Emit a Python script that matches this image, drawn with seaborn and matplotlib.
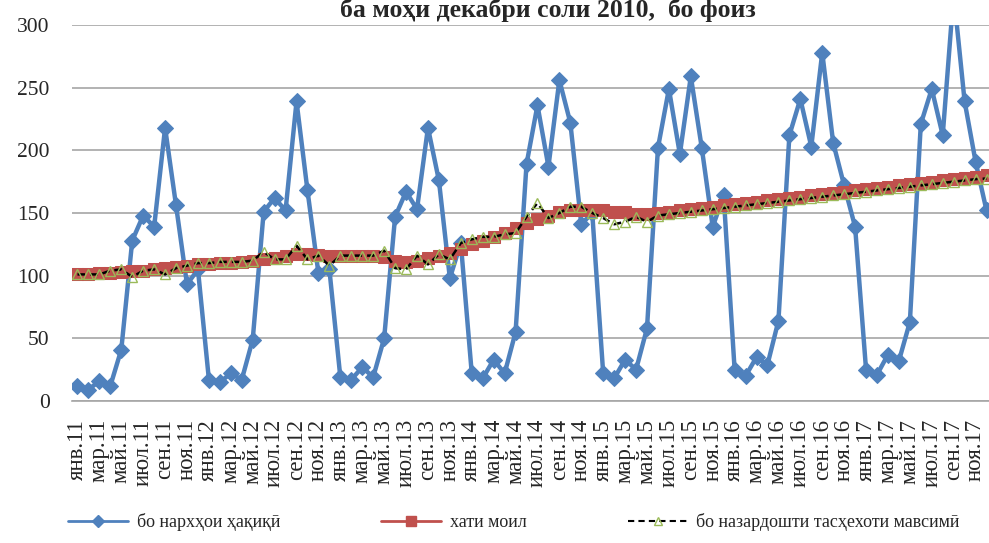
import numpy as np
import pandas as pd
import matplotlib
matplotlib.use("Agg")
import matplotlib.pyplot as plt
import seaborn as sns
from matplotlib.lines import Line2D

sns.set_theme(style="white")
plt.rcParams['font.family'] = ['Liberation Serif', 'DejaVu Serif']

months = ["янв", "фев", "мар", "апр", "май", "июн", "июл", "авг", "сен", "окт", "ноя", "дек"]
years = ["11", "12", "13", "14", "15", "16", "17"]
periods = [f"{m}.{y}" for y in years for m in months]

actual = [
    12, 9, 16, 12, 41, 128, 148, 139, 218, 156, 93, 105,
    17, 15, 22, 17, 49, 151, 162, 152, 239, 168, 102, 105,
    19, 17, 27, 19, 50, 147, 167, 153, 218, 176, 98, 126,
    22, 18, 33, 22, 55, 189, 236, 187, 256, 222, 141, 150,
    22, 18, 33, 25, 58, 202, 249, 197, 259, 202, 139, 164,
    25, 20, 35, 29, 64, 212, 241, 203, 278, 206, 172, 139,
    25, 21, 37, 32, 63, 221, 249, 212, 325, 239, 191, 152,
]
trend = [
    101, 101.5, 102, 102.5, 103, 103.5, 104, 105, 106, 107, 108, 109,
    109.5, 110, 110.5, 111, 112, 113, 114, 115.5, 117, 117, 116.5, 116,
    116, 116, 116, 116, 115, 112, 111, 112, 114, 116, 118, 121,
    125, 128, 131, 134, 138, 142, 145, 148, 151, 152, 152, 152,
    152, 151, 151, 149, 149, 150, 151, 152, 153, 154, 155, 156,
    157, 158, 159, 160, 161, 162, 163, 164, 165, 166, 167, 168,
    169, 170, 171, 172, 173, 174, 175, 176, 177, 178, 179, 180,
]
seasonal = [
    101, 101, 101, 104, 105, 99, 104, 105, 101, 106, 108, 110,
    110, 111, 111, 111, 112, 119, 113, 113, 124, 113, 116, 108,
    116, 116, 116, 116, 120, 106, 105, 116, 109, 117, 113, 126,
    129, 131, 131, 133, 134, 147, 158, 146, 150, 155, 155, 150,
    146, 141, 143, 147, 143, 148, 149, 150, 151, 152, 153, 154,
    155, 156, 157, 158, 159, 160, 161, 162, 163, 164, 165, 166,
    167, 168, 169, 170, 171, 172, 173, 174, 175, 176, 177, 177.5,
]
tick_labels = periods[::2]
legend_labels = ["бо нархҳои ҳақиқӣ", "хати моил", "бо назардошти тасҳехоти мавсимӣ"]
title = "ба моҳи декабри соли 2010,  бо фоиз"

df = pd.DataFrame({"idx": np.arange(len(periods)), "actual": actual,
                   "trend": trend, "seasonal": seasonal})

W, H = 989, 543
fig = plt.figure(figsize=(W / 100, H / 100), dpi=100)
ax = fig.add_axes([72 / W, 142 / H, 920 / W, 376 / H])

blue, red, green = "#4F81BD", "#C0504D", "#9BBB59"

sns.lineplot(data=df, x="idx", y="actual", ax=ax, color=blue, linewidth=3.2,
             marker="D", markersize=8, markeredgecolor=blue, zorder=3)
sns.lineplot(data=df, x="idx", y="trend", ax=ax, color=red, linewidth=2.5,
             marker="s", markersize=8, markeredgecolor=red, zorder=4)
sns.lineplot(data=df, x="idx", y="seasonal", ax=ax, color="black", linewidth=1.8,
             linestyle=(0, (3, 2)), marker="^", markersize=7,
             markerfacecolor="none", markeredgecolor=green, markeredgewidth=1.0, zorder=5)

ax.set_xlim(-0.5, 83.5)
ax.set_ylim(0, 300)
ax.set_yticks(np.arange(0, 301, 50))
ax.set_xticks(np.arange(0, len(periods), 2))
ax.set_xticklabels(tick_labels, rotation=90, fontsize=16.5)
ax.tick_params(axis="y", labelsize=15.5, length=0, pad=16)
ax.tick_params(axis="x", length=0, pad=13)
ax.set_xlabel("")
ax.set_ylabel("")
ax.grid(axis="y", color="#A6A6A6", linewidth=1.2)
ax.grid(axis="x", visible=False)
for s in ["left", "right", "top"]:
    ax.spines[s].set_visible(False)
ax.spines["bottom"].set_color("#A6A6A6")
ax.spines["bottom"].set_linewidth(1.2)
if ax.get_legend():
    ax.get_legend().remove()

fig.text(548 / W, 1 - 17 / H, title, ha="center", va="baseline",
         fontsize=18.5, fontweight="bold")

handles = [
    Line2D([], [], color=blue, linewidth=2, marker="D", markersize=6),
    Line2D([], [], color=red, linewidth=2, marker="s", markersize=7),
    Line2D([], [], color="black", linewidth=1.5, linestyle=(0, (3, 2)), marker="^",
           markersize=6, markerfacecolor="none", markeredgecolor=green),
]
fig.legend(handles, legend_labels, loc="center left", bbox_to_anchor=(52 / W, 1 - 522 / H),
           ncol=3, frameon=False, fontsize=13, handlelength=3.3, columnspacing=5.6,
           handletextpad=0.5)

fig.savefig("out.png", dpi=100)
